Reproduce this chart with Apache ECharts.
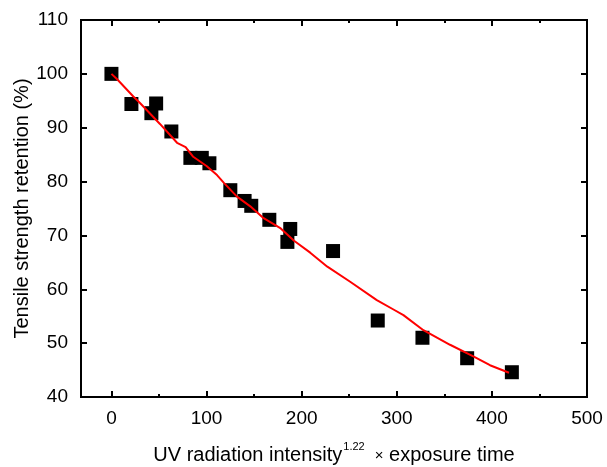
<!DOCTYPE html>
<html>
<head>
<meta charset="utf-8">
<script src="https://cdn.jsdelivr.net/npm/echarts@6/dist/echarts.min.js"></script>
<style>
  html, body { margin: 0; padding: 0; background: #fff; }
  #chart { width: 607px; height: 467px; }
</style>
</head>
<body>
<div id="chart"></div>
<script>
// measured points
const dosage = [0, 21, 42, 47, 63, 83, 95, 103, 125, 140, 147, 166, 185, 188, 233, 280, 327, 374, 421]
const retention = [100, 94.4, 92.7, 94.5, 89.3, 84.4, 84.4, 83.4, 78.4, 76.4, 75.5, 72.9, 68.8, 71.2, 67.1, 54.2, 51.0, 47.2, 44.6]

// fitted curve (red)
const fitX = [0, 6, 23, 30, 37, 51, 69, 78, 86, 100, 111, 118, 132, 146, 160, 178, 192, 209, 227, 251, 279, 297, 307, 328, 356, 381, 398, 418]
const fitY = [100, 99.0, 95.8, 94.6, 93.3, 90.7, 87.2, 86.4, 84.6, 82.9, 81.2, 79.8, 77.2, 75.4, 73.2, 71.3, 69.0, 66.8, 64.2, 61.4, 58.0, 56.2, 55.2, 52.4, 49.7, 47.5, 45.9, 44.5]

const xMajor = [0, 100, 200, 300, 400, 500]
const xMinor = [50, 150, 250, 350, 450]

const chart = echarts.init(document.getElementById('chart'))

const font = 'Liberation Sans, Arial, sans-serif'

function tickAxis(pos, values, len) {
  return {
    type: 'value',
    position: pos,
    min: -32,
    max: 500,
    axisLine: { show: false, onZero: false },
    axisLabel: { show: false },
    axisTick: { show: true, inside: true, length: len, customValues: values, lineStyle: { color: '#000', width: 2 } },
    splitLine: { show: false }
  }
}

chart.setOption({
  animation: false,
  grid: {
    left: 81, right: 20, top: 20, bottom: 70,
    outerBoundsMode: 'none',
    containLabel: false,
    show: true, borderColor: '#000', borderWidth: 2, backgroundColor: 'transparent'
  },
  xAxis: [
    {
      type: 'value',
      position: 'bottom',
      min: -32,
      max: 500,
      name: '{a|UV radiation intensity}{s|1.22}{b|×}{a| exposure time}',
      nameLocation: 'middle',
      nameGap: 44,
      nameTextStyle: {
        rich: {
          a: { fontSize: 20, fontFamily: font, color: '#000' },
          b: { fontSize: 15, fontFamily: font, color: '#000' },
          s: { fontSize: 11, fontFamily: font, color: '#000', padding: [0, 10, 18, 1] }
        }
      },
      axisLine: { show: false, onZero: false },
      axisTick: { show: true, inside: true, length: 6, customValues: xMajor, lineStyle: { color: '#000', width: 2 } },
      axisLabel: { customValues: xMajor, color: '#000', fontSize: 19, fontFamily: font, margin: 12 },
      splitLine: { show: false }
    },
    tickAxis('bottom', xMinor, 3),
    tickAxis('top', xMajor, 6),
    tickAxis('top', xMinor, 3)
  ],
  yAxis: [
    {
      type: 'value',
      position: 'left',
      min: 40,
      max: 110,
      interval: 10,
      name: 'Tensile strength retention (%)',
      nameLocation: 'middle',
      nameGap: 49,
      nameMoveOverlap: false,
      nameTextStyle: { fontSize: 20, fontFamily: font, color: '#000' },
      axisLine: { show: false, onZero: false },
      axisTick: { show: true, inside: true, length: 6, lineStyle: { color: '#000', width: 2 } },
      axisLabel: { color: '#000', fontSize: 19, fontFamily: font, margin: 13 },
      splitLine: { show: false }
    },
    {
      type: 'value',
      position: 'right',
      min: 40,
      max: 110,
      interval: 10,
      axisLine: { show: false, onZero: false },
      axisTick: { show: true, inside: true, length: 6, lineStyle: { color: '#000', width: 2 } },
      axisLabel: { show: false },
      splitLine: { show: false }
    }
  ],
  series: [
    {
      type: 'scatter',
      data: dosage.map((x, i) => [x, retention[i]]),
      symbol: 'rect',
      symbolSize: 14,
      itemStyle: { color: '#000', opacity: 1 },
      z: 2
    },
    {
      type: 'line',
      data: fitX.map((x, i) => [x, fitY[i]]),
      showSymbol: false,
      smooth: false,
      lineStyle: { color: '#ff0000', width: 2 },
      z: 3
    }
  ]
})
</script>
</body>
</html>
